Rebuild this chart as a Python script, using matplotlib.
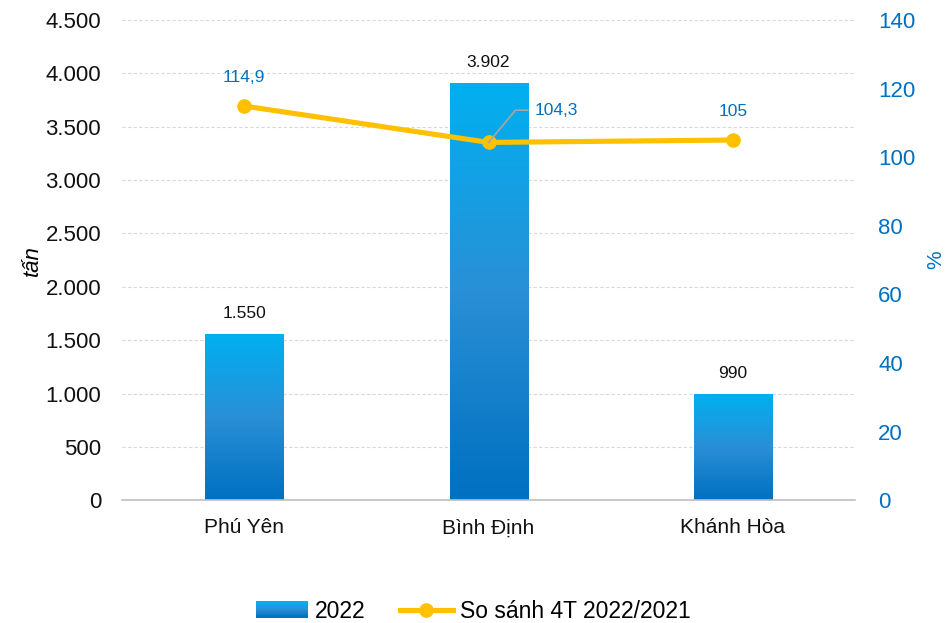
import numpy as np
import matplotlib.pyplot as plt
from matplotlib.colors import LinearSegmentedColormap
from matplotlib.patches import Patch, Rectangle
from matplotlib.lines import Line2D
from matplotlib.legend_handler import HandlerBase

plt.rcParams['font.family'] = ['Liberation Sans', 'DejaVu Sans']

provinces = ['Phú Yên', 'Bình Định', 'Khánh Hòa']
tons_2022 = [1550, 3902, 990]
tons_labels = ['1.550', '3.902', '990']
pct_vs_2021 = [114.9, 104.3, 105]
pct_labels = ['114,9', '104,3', '105']
left_ticks = [0, 500, 1000, 1500, 2000, 2500, 3000, 3500, 4000, 4500]
left_ticklabels = ['0', '500', '1.000', '1.500', '2.000', '2.500', '3.000', '3.500', '4.000', '4.500']
right_ticks = [0, 20, 40, 60, 80, 100, 120, 140]

blue_dark = '#0070C0'
blue_light = '#00B0F0'
yellow = '#FFC000'

cmap = LinearSegmentedColormap.from_list('bar', [blue_dark, '#2A8FD6', blue_light])


# gradient swatch for the legend
class GradientHandler(HandlerBase):
    def create_artists(self, legend, orig_handle, xdescent, ydescent, width, height, fontsize, trans):
        n = 20
        out = []
        for i in range(n):
            r = Rectangle((-xdescent, -ydescent + height * i / n), width, height / n + 0.3,
                          facecolor=cmap(i / (n - 1)), edgecolor='none', transform=trans)
            out.append(r)
        return out


fig = plt.figure(figsize=(9.46, 6.23), dpi=100)
ax = fig.add_axes([0.129, 0.197, 0.775, 0.771])
ax2 = ax.twinx()

x = np.arange(len(provinces))
w = 0.32
grad = np.linspace(0, 1, 256).reshape(-1, 1)

for xi, v, lab in zip(x, tons_2022, tons_labels):
    ax.imshow(grad, extent=[xi - w / 2, xi + w / 2, 0, v], origin='lower',
              aspect='auto', cmap=cmap, zorder=2)
    ax.text(xi, v + 130, lab, ha='center', va='bottom', fontsize=12.5, color='#111111')
ax.set_xlim(-0.5, 2.5)
ax.set_ylim(0, 4500)

ax.set_yticks(left_ticks)
ax.set_yticklabels(left_ticklabels)
ax.set_xticks(x)
ax.set_xticklabels(provinces)
ax.tick_params(axis='y', length=0, labelsize=16, colors='#111111', pad=15)
ax.tick_params(axis='x', length=0, labelsize=15, colors='#111111', pad=13)
ax.grid(axis='y', color='#D9D9D9', linestyle=(0, (3, 2)), linewidth=0.8, zorder=0)
ax.set_axisbelow(True)
for s in ['top', 'left', 'right']:
    ax.spines[s].set_visible(False)
ax.spines['bottom'].set_color('#BFBFBF')
ax.spines['bottom'].set_linewidth(1.2)
ax.set_ylabel('tấn', fontsize=16, style='italic', labelpad=2)

ax2.plot(x, pct_vs_2021, color=yellow, linewidth=3.7, marker='o', markersize=9.5,
         zorder=5, solid_capstyle='round')
ax2.set_ylim(0, 140)
ax2.set_yticks(right_ticks)
ax2.tick_params(axis='y', length=0, labelsize=16, colors=blue_dark, pad=16.5)
for s in ['top', 'left', 'right', 'bottom']:
    ax2.spines[s].set_visible(False)
ax2.set_ylabel('%', fontsize=15, color=blue_dark, labelpad=8)

# value labels of the line
ax2.text(x[0], pct_vs_2021[0] + 6.2, pct_labels[0], ha='center', va='bottom', fontsize=12.5, color=blue_dark)
ax2.text(x[2], pct_vs_2021[2] + 6.2, pct_labels[2], ha='center', va='bottom', fontsize=12.5, color=blue_dark)
ax2.plot([x[1], x[1] + 0.11, x[1] + 0.16], [pct_vs_2021[1], pct_vs_2021[1] + 9.4, pct_vs_2021[1] + 9.4],
         color='#A6A6A6', linewidth=1.2, zorder=6)
ax2.text(x[1] + 0.19, pct_vs_2021[1] + 9.4, pct_labels[1], ha='left', va='center', fontsize=12.5, color=blue_dark)

bar_handle = Patch(facecolor='#1B8FD8', edgecolor='none')
handles = [bar_handle,
           Line2D([0], [0], color=yellow, linewidth=3.7, marker='o', markersize=9.5)]
fig.legend(handles, ['2022', 'So sánh 4T 2022/2021'], loc='center',
           bbox_to_anchor=(0.5, 0.019), ncol=2, frameon=False, fontsize=16.5,
           handlelength=2.3, columnspacing=1.5, handletextpad=0.3,
           handler_map={bar_handle: GradientHandler()})

plt.savefig('out.png', dpi=100)
